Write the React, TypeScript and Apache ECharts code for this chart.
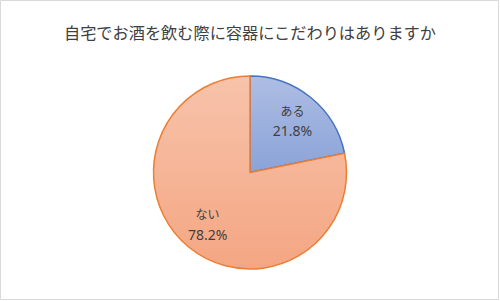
import React, { useEffect, useRef } from "react";
import * as echarts from "echarts";

const titleText = "自宅でお酒を飲む際に容器にこだわりはありますか";
const categories = ["ある", "ない"];
const values = [21.8, 78.2];
const fillTop = ["#aebde4", "#f7c3aa"];
const fillBottom = ["#8aa3d8", "#f4a683"];
const borderColors = ["#4472C4", "#ED7D31"];

export default function App() {
  const ref = useRef<HTMLDivElement>(null);
  useEffect(() => {
    document.body.style.margin = "0";
    const chart = echarts.init(ref.current!, undefined, { renderer: "svg" });
    const mainData = categories.map((name, i) => ({
      name,
      value: values[i],
      itemStyle: {
        color: new echarts.graphic.LinearGradient(0, 0, 0, 1, [
          { offset: 0, color: fillTop[i] },
          { offset: 1, color: fillBottom[i] },
        ]),
        borderColor: borderColors[i],
        borderWidth: 1.5,
      },
    }));
    const labelData = categories.map((name, i) => ({ name, value: values[i] }));
    chart.setOption({
      animation: false,
      backgroundColor: "#ffffff",
      graphic: [
        {
          type: "rect",
          shape: { x: 0.5, y: 0.5, width: 498, height: 299 },
          style: { fill: "none", stroke: "#d9d9d9", lineWidth: 1 },
          z: 100,
          silent: true,
        },
      ],
      title: {
        text: titleText,
        left: "center",
        top: 17,
        textStyle: {
          fontFamily: "Noto Sans CJK JP",
          fontSize: 16.2,
          lineHeight: 20,
          fontWeight: "normal",
          color: "#404040",
        },
      },
      series: [
        {
          type: "pie",
          center: [250, 172.5],
          radius: [0, 96.5],
          startAngle: 90,
          clockwise: true,
          silent: true,
          label: { show: false },
          labelLine: { show: false },
          data: mainData,
        },
        {
          type: "pie",
          center: [250, 172.5],
          radius: [0, 128],
          startAngle: 90,
          clockwise: true,
          silent: true,
          itemStyle: { color: "rgba(0,0,0,0)", borderWidth: 0 },
          labelLine: { show: false },
          label: {
            show: true,
            position: "inside",
            formatter: "{n|{b}}\n{p|{c}%}",
            color: "#404040",
            rich: {
              n: {
                fontFamily: "Noto Sans CJK JP",
                fontSize: 12,
                lineHeight: 20,
                color: "#404040",
              },
              p: {
                fontFamily: "Noto Sans",
                fontSize: 14,
                lineHeight: 21,
                color: "#404040",
              },
            },
          },
          data: labelData,
          z: 5,
        },
      ],
    });
    return () => chart.dispose();
  }, []);
  return (
    <div
      ref={ref}
      style={{ position: "absolute", left: 0, top: 0, width: 500, height: 301 }}
    />
  );
}
